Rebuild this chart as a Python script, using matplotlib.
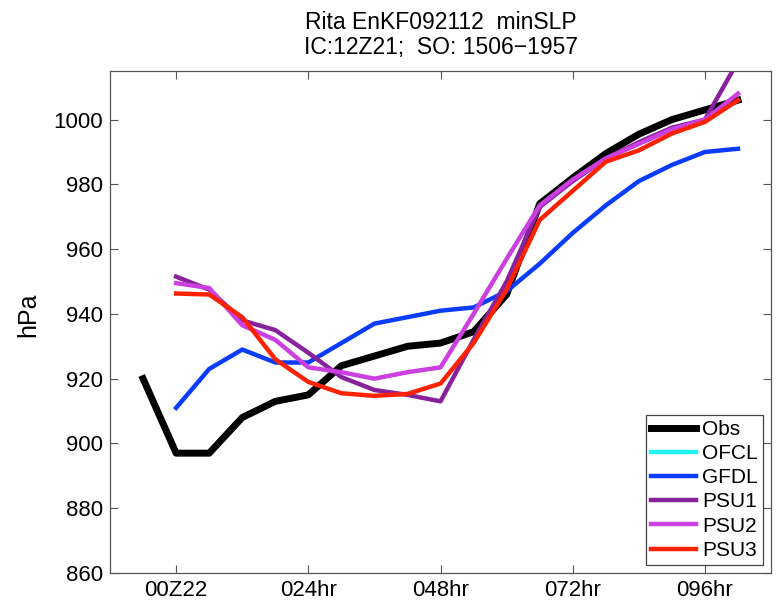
import matplotlib
matplotlib.use('Agg')
import matplotlib.pyplot as plt

# forecast hour of each sample (6-hourly)
obs_hours = [-6, 0, 6, 12, 18, 24, 30, 36, 42, 48, 54, 60, 66, 72, 78, 84, 90, 96, 102]
fc_hours = [0, 6, 12, 18, 24, 30, 36, 42, 48, 54, 60, 66, 72, 78, 84, 90, 96, 102]

# min SLP (hPa)
obs = [920, 897, 897, 908, 913, 915, 924, 927, 930, 931, 934.5, 946, 974, 982, 989.5, 995.5, 1000, 1003, 1006]
ofcl = []
gfdl = [911, 923, 929, 925, 925, 931, 937, 939, 941, 942, 947, 955.5, 965, 973.5, 981, 986, 990, 991]
psu1 = [951.5, 947.5, 938, 935, 928, 920.5, 916.5, 915, 913, 932, 950, 973, 981, 988, 993, 997.5, 1000, 1018]
psu2 = [949.5, 948, 936.5, 932, 923.5, 922, 920, 922, 923.5, 940, 957, 973.5, 981.5, 988, 992.5, 997, 1000, 1008]
psu3 = [946.3, 946, 939, 926, 919, 915.5, 914.7, 915.3, 918.5, 931, 947.5, 969, 978, 987, 990.5, 995.7, 999.3, 1006]

xticks = [0, 24, 48, 72, 96]
xticklabels = ['00Z22', '024hr', '048hr', '072hr', '096hr']
yticks = [860, 880, 900, 920, 940, 960, 980, 1000]

plt.rcParams['font.family'] = ['Liberation Sans', 'DejaVu Sans']
plt.rcParams['font.size'] = 16

fig = plt.figure(figsize=(7.76, 6.05), dpi=100)
ax = fig.add_axes([0.1418, 0.0529, 0.8518, 0.8297])

ax.plot(obs_hours, obs, color='black', lw=5, label='Obs')
ax.plot(fc_hours[:len(ofcl)], ofcl, color='#22f5f5', lw=3.2, label='OFCL')
ax.plot(fc_hours, gfdl, color='#0a3cff', lw=3.2, label='GFDL')
ax.plot(fc_hours, psu1, color='#87229a', lw=3.2, label='PSU1')
ax.plot(fc_hours, psu2, color='#cc3fe0', lw=3.2, label='PSU2')
ax.plot(fc_hours, psu3, color='#ff2200', lw=3.2, label='PSU3')

ax.set_xlim(-12, 108)
ax.set_ylim(860, 1015)
ax.set_xticks(xticks)
ax.set_xticklabels(xticklabels)
ax.set_yticks(yticks)
ax.tick_params(direction='in', top=True, right=True, length=6, width=0.8,
               color='#555555', labelsize=16, pad=5)
for sp in ax.spines.values():
    sp.set_color('#555555')
    sp.set_linewidth(0.9)

ax.set_ylabel('hPa', fontsize=18)
ax.yaxis.set_label_coords(-0.106, 0.515)
ax.set_title('Rita EnKF092112  minSLP\nIC:12Z21;  SO: 1506\u22121957',
             fontsize=16.5, linespacing=1.12, pad=12)

leg = ax.legend(loc='lower right', fontsize=15, handlelength=2.16, handletextpad=0.29,
                labelspacing=0.25, borderpad=0.25, borderaxespad=0.38,
                fancybox=False, framealpha=1)
leg.get_frame().set_edgecolor('#444444')
leg.get_frame().set_linewidth(0.9)

fig.savefig('out.png', dpi=100)
